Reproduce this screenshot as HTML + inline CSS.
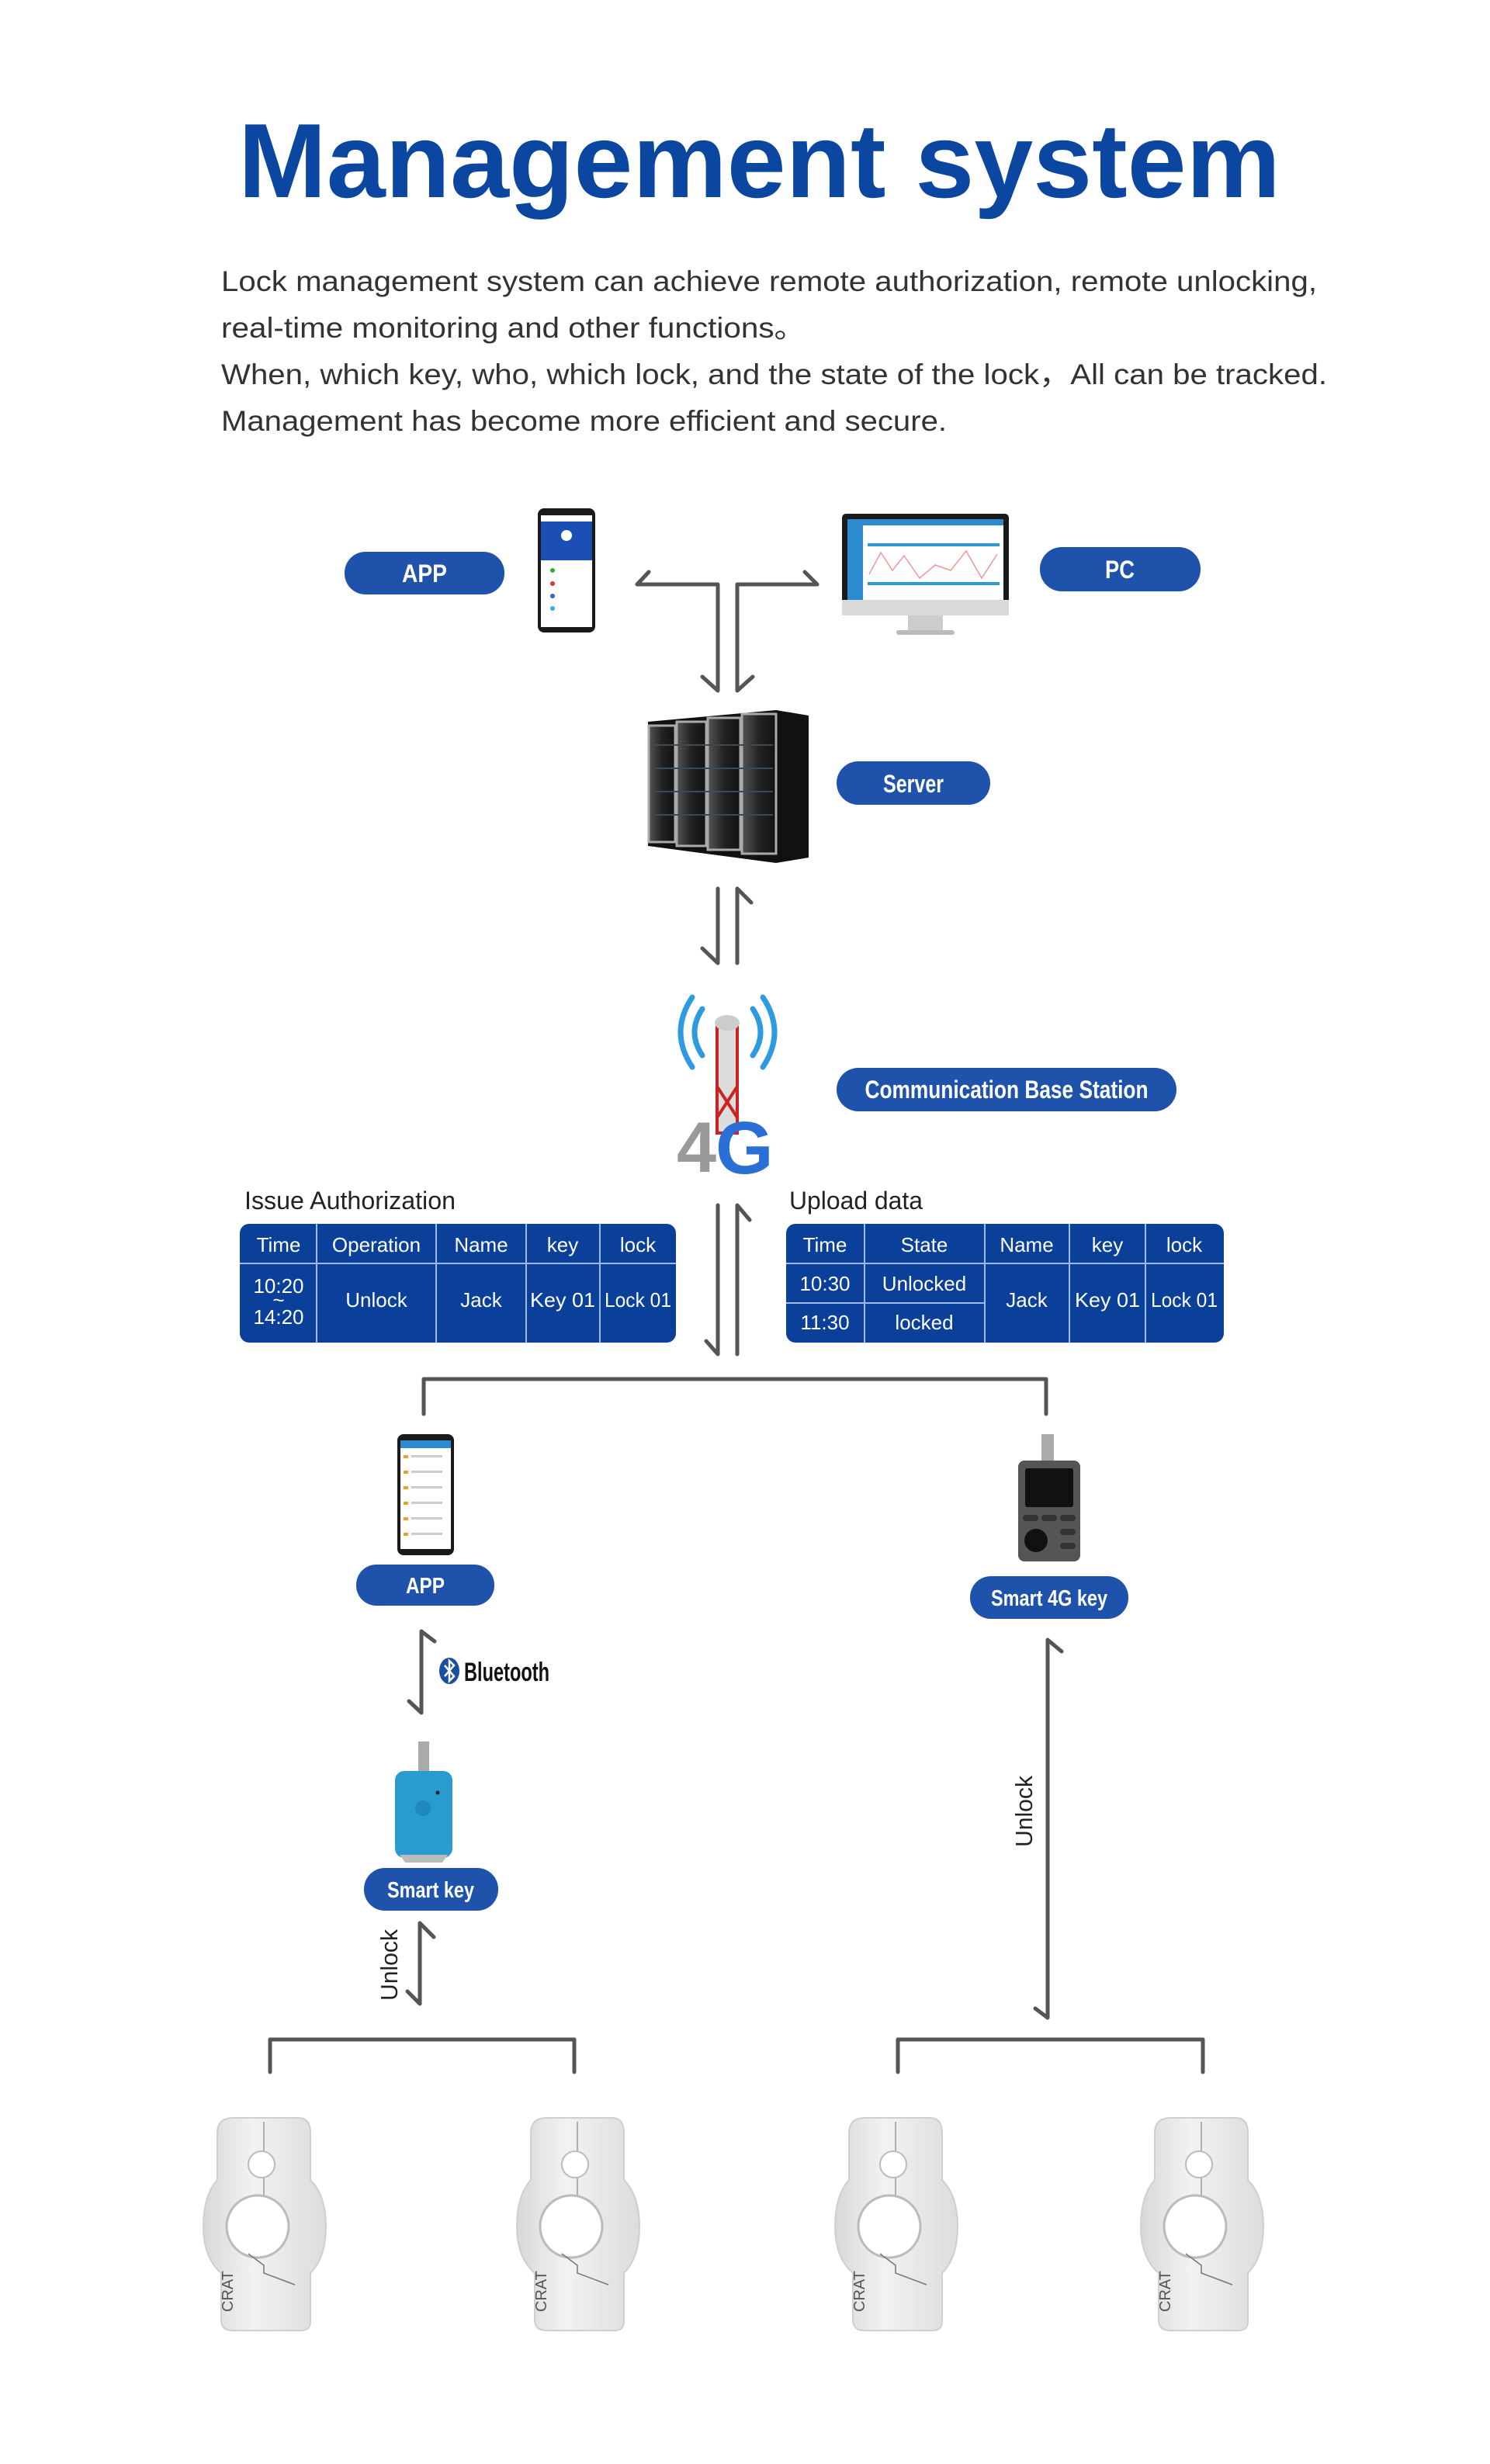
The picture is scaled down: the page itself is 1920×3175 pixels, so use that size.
<!DOCTYPE html>
<html><head><meta charset="utf-8"><style>
html,body{margin:0;padding:0;background:#fff}
svg{display:block}
.p{font-family:"Liberation Sans","Noto Sans CJK SC",sans-serif;font-size:37px;fill:#333}
.pill{fill:#1f52aa}
.pt{font-family:"Liberation Sans Narrow","Liberation Sans",sans-serif;font-weight:bold;fill:#fff;text-anchor:middle}
.tt{font-family:"Liberation Sans Narrow","Liberation Sans",sans-serif;font-size:26px;fill:#fff;text-anchor:middle}
.ln{stroke:#555;stroke-width:5;fill:none;stroke-linecap:round;stroke-linejoin:round}
.dv{stroke:#9fb9e8;stroke-width:2}
.lbl{font-family:"Liberation Sans Narrow","Liberation Sans",sans-serif;font-size:32px;fill:#222}
.bt{font-family:"Liberation Sans Narrow","Liberation Sans",sans-serif;font-weight:bold;font-size:34px;fill:#111}
</style></head><body>
<svg width="1920" height="3175" viewBox="0 0 1920 3175" xmlns="http://www.w3.org/2000/svg">
<defs>
<linearGradient id="lk" x1="0" x2="1"><stop offset="0" stop-color="#d8d8d8"/><stop offset=".4" stop-color="#f2f2f2"/><stop offset="1" stop-color="#dcdcdc"/></linearGradient>
<linearGradient id="srv" x1="0" x2="1"><stop offset="0" stop-color="#555"/><stop offset=".5" stop-color="#222"/><stop offset="1" stop-color="#111"/></linearGradient>
<g id="lock">
 <path d="M-60,20 Q-60,0 -40,0 L45,0 Q60,0 60,20 L60,80 Q80,100 80,140 Q80,180 60,200 L60,262 Q60,274 48,274 L-40,274 Q-55,274 -55,260 L-55,200 Q-78,180 -78,140 Q-78,100 -60,80 Z" fill="url(#lk)" stroke="#cfcfcf" stroke-width="2"/>
 <line x1="0" y1="5" x2="0" y2="100" stroke="#999" stroke-width="1.5"/>
 <circle cx="-3" cy="60" r="17" fill="#fff" stroke="#bbb" stroke-width="2"/>
 <circle cx="-8" cy="140" r="40" fill="#fff" stroke="#bbb" stroke-width="3"/>
 <path d="M-20,175 L0,190 L0,200 L40,215" stroke="#777" stroke-width="1.5" fill="none"/>
 <text x="-40" y="250" font-family="Liberation Sans" font-size="20" fill="#555" transform="rotate(-90 -40 250)">CRAT</text>
</g>
</defs>

<text x="307" y="254" textLength="1343" lengthAdjust="spacingAndGlyphs" font-family="Liberation Sans" font-weight="bold" font-size="136" fill="#0b47a1">Management system</text>

<text class="p" x="285" y="375" textLength="1412" lengthAdjust="spacingAndGlyphs">Lock management system can achieve remote authorization, remote unlocking,</text>
<text class="p" x="285" y="435" textLength="753" lengthAdjust="spacingAndGlyphs">real-time monitoring and other functions。</text>
<text class="p" x="285" y="495" textLength="1425" lengthAdjust="spacingAndGlyphs">When, which key, who, which lock, and the state of the lock，All can be tracked.</text>
<text class="p" x="285" y="555" textLength="935" lengthAdjust="spacingAndGlyphs">Management has become more efficient and secure.</text>

<rect class="pill" x="444" y="711" width="206" height="55" rx="27"/>
<text class="pt" x="547" y="750" font-size="32" textLength="58" lengthAdjust="spacingAndGlyphs">APP</text>
<rect x="693" y="655" width="74" height="160" rx="8" fill="#1a1a1a"/>
<rect x="697" y="664" width="66" height="144" fill="#fff"/>
<rect x="697" y="672" width="66" height="50" fill="#1c4fb6"/>
<circle cx="730" cy="690" r="7" fill="#fff"/>
<circle cx="712" cy="735" r="3" fill="#3a3"/><circle cx="712" cy="752" r="3" fill="#d33"/><circle cx="712" cy="768" r="3" fill="#36c"/><circle cx="712" cy="784" r="3" fill="#3ad"/>

<rect x="1085" y="662" width="215" height="130" rx="5" fill="#1a1a1a"/>
<rect x="1092" y="669" width="201" height="104" fill="#fff"/>
<rect x="1092" y="669" width="201" height="8" fill="#2e8ad0"/>
<rect x="1092" y="677" width="20" height="96" fill="#2e8ad0"/>
<rect x="1118" y="700" width="170" height="4" fill="#3399cc"/>
<polyline points="1120,740 1135,712 1150,735 1165,716 1185,745 1205,728 1225,735 1245,710 1265,745 1285,714" fill="none" stroke="#e99" stroke-width="1.5"/>
<rect x="1118" y="750" width="170" height="4" fill="#3399cc"/>
<rect x="1085" y="773" width="215" height="20" fill="#d9d9d9"/>
<rect x="1170" y="793" width="45" height="20" fill="#ccc"/>
<rect x="1155" y="812" width="75" height="6" rx="3" fill="#bbb"/>

<rect class="pill" x="1340" y="705" width="207" height="57" rx="28"/>
<text class="pt" x="1443" y="745" font-size="32" textLength="38" lengthAdjust="spacingAndGlyphs">PC</text>

<path class="ln" d="M836,737 L821,753 L925,753 L925,890 M905,872 L925,890"/>
<path class="ln" d="M1037,737 L1053,753 L950,753 L950,890 L970,872"/>

<polygon points="835,930 1000,915 1042,922 1042,1105 1000,1112 835,1090" fill="#111"/>
<g fill="url(#srv)" stroke="#aaa" stroke-width="3">
<rect x="836" y="935" width="34" height="150"/>
<rect x="872" y="930" width="38" height="160"/>
<rect x="912" y="925" width="42" height="170"/>
<rect x="956" y="920" width="44" height="180"/>
</g>
<g stroke="#3a4a5a" stroke-width="2">
<line x1="840" y1="960" x2="996" y2="960"/><line x1="840" y1="990" x2="996" y2="990"/><line x1="840" y1="1020" x2="996" y2="1020"/><line x1="840" y1="1050" x2="996" y2="1050"/>
</g>
<rect class="pill" x="1078" y="981" width="198" height="56" rx="28"/>
<text class="pt" x="1177" y="1021" font-size="32" textLength="78" lengthAdjust="spacingAndGlyphs">Server</text>

<path class="ln" d="M925,1145 L925,1241 L905,1222"/>
<path class="ln" d="M950,1241 L950,1145 L968,1163"/>

<g fill="none" stroke="#2e9ae0" stroke-width="7" stroke-linecap="round">
<path d="M905,1300 Q885,1330 905,1360"/><path d="M892,1285 Q862,1330 892,1375"/>
<path d="M970,1300 Q990,1330 970,1360"/><path d="M983,1285 Q1013,1330 983,1375"/>
</g>
<rect x="924" y="1320" width="26" height="140" fill="#ddd" stroke="#c22" stroke-width="4"/>
<path d="M924,1400 L950,1440 M950,1400 L924,1440" stroke="#c22" stroke-width="4"/>
<ellipse cx="937" cy="1318" rx="16" ry="10" fill="#ccc"/>
<text x="872" y="1510" font-family="Liberation Sans" font-weight="bold" font-size="92" fill="#999">4</text>
<text x="922" y="1512" font-family="Liberation Sans" font-weight="bold" font-size="96" fill="#2a6fd6">G</text>

<rect class="pill" x="1078" y="1376" width="438" height="56" rx="28"/>
<text class="pt" x="1297" y="1415" font-size="32" textLength="365" lengthAdjust="spacingAndGlyphs">Communication Base Station</text>

<text class="lbl" x="315" y="1558" textLength="272" lengthAdjust="spacingAndGlyphs">Issue Authorization</text>
<text class="lbl" x="1017" y="1558" textLength="172" lengthAdjust="spacingAndGlyphs">Upload data</text>

<rect x="309" y="1577" width="562" height="153" rx="12" fill="#0a3f9a"/>
<line class="dv" x1="309" y1="1628" x2="871" y2="1628"/>
<g class="dv"><line x1="408" y1="1577" x2="408" y2="1730"/><line x1="562" y1="1577" x2="562" y2="1730"/><line x1="678" y1="1577" x2="678" y2="1730"/><line x1="773" y1="1577" x2="773" y2="1730"/></g>
<text class="tt" x="359" y="1613">Time</text><text class="tt" x="485" y="1613">Operation</text><text class="tt" x="620" y="1613">Name</text><text class="tt" x="725" y="1613">key</text><text class="tt" x="822" y="1613">lock</text>
<text class="tt" x="359" y="1666">10:20</text><text class="tt" x="359" y="1684">~</text><text class="tt" x="359" y="1706">14:20</text>
<text class="tt" x="485" y="1684">Unlock</text><text class="tt" x="620" y="1684">Jack</text><text class="tt" x="725" y="1684" textLength="84" lengthAdjust="spacingAndGlyphs">Key 01</text><text class="tt" x="822" y="1684" textLength="86" lengthAdjust="spacingAndGlyphs">Lock 01</text>

<rect x="1013" y="1577" width="564" height="153" rx="12" fill="#0a3f9a"/>
<line class="dv" x1="1013" y1="1628" x2="1577" y2="1628"/>
<line class="dv" x1="1013" y1="1679" x2="1269" y2="1679"/>
<g class="dv"><line x1="1114" y1="1577" x2="1114" y2="1730"/><line x1="1269" y1="1577" x2="1269" y2="1730"/><line x1="1378" y1="1577" x2="1378" y2="1730"/><line x1="1476" y1="1577" x2="1476" y2="1730"/></g>
<text class="tt" x="1063" y="1613">Time</text><text class="tt" x="1191" y="1613">State</text><text class="tt" x="1323" y="1613">Name</text><text class="tt" x="1427" y="1613">key</text><text class="tt" x="1526" y="1613">lock</text>
<text class="tt" x="1063" y="1663">10:30</text><text class="tt" x="1191" y="1663">Unlocked</text>
<text class="tt" x="1063" y="1713">11:30</text><text class="tt" x="1191" y="1713">locked</text>
<text class="tt" x="1323" y="1684">Jack</text><text class="tt" x="1427" y="1684" textLength="84" lengthAdjust="spacingAndGlyphs">Key 01</text><text class="tt" x="1526" y="1684" textLength="86" lengthAdjust="spacingAndGlyphs">Lock 01</text>

<path class="ln" d="M925,1553 L925,1745 L910,1728"/>
<path class="ln" d="M950,1745 L950,1553 L966,1572"/>

<path class="ln" d="M546,1822 L546,1777 L1348,1777 L1348,1822"/>

<rect x="512" y="1848" width="73" height="156" rx="8" fill="#1a1a1a"/>
<rect x="516" y="1856" width="65" height="140" fill="#fff"/>
<rect x="516" y="1856" width="65" height="10" fill="#2e8ad0"/>
<g fill="#f0a030"><rect x="520" y="1875" width="6" height="4"/><rect x="520" y="1895" width="6" height="4"/><rect x="520" y="1915" width="6" height="4"/><rect x="520" y="1935" width="6" height="4"/><rect x="520" y="1955" width="6" height="4"/><rect x="520" y="1975" width="6" height="4"/></g>
<g fill="#ccc"><rect x="530" y="1875" width="40" height="3"/><rect x="530" y="1895" width="40" height="3"/><rect x="530" y="1915" width="40" height="3"/><rect x="530" y="1935" width="40" height="3"/><rect x="530" y="1955" width="40" height="3"/><rect x="530" y="1975" width="40" height="3"/></g>
<rect class="pill" x="459" y="2016" width="178" height="53" rx="26"/>
<text class="pt" x="548" y="2053" font-size="29" textLength="50" lengthAdjust="spacingAndGlyphs">APP</text>

<rect x="1342" y="1848" width="16" height="35" fill="#aaa"/>
<rect x="1312" y="1882" width="80" height="130" rx="8" fill="#555"/>
<rect x="1321" y="1892" width="62" height="50" rx="3" fill="#111"/>
<circle cx="1335" cy="1985" r="15" fill="#111"/>
<g fill="#333"><rect x="1318" y="1952" width="20" height="8" rx="4"/><rect x="1342" y="1952" width="20" height="8" rx="4"/><rect x="1366" y="1952" width="20" height="8" rx="4"/><rect x="1366" y="1970" width="20" height="8" rx="4"/><rect x="1366" y="1988" width="20" height="8" rx="4"/></g>
<rect class="pill" x="1250" y="2031" width="204" height="55" rx="27"/>
<text class="pt" x="1352" y="2069" font-size="29" textLength="150" lengthAdjust="spacingAndGlyphs">Smart 4G key</text>

<path class="ln" d="M560,2115 L543,2102 L543,2207 L527,2192"/>
<ellipse cx="579" cy="2153" rx="13" ry="17" fill="#1a4fa0"/>
<path d="M573,2146 L585,2160 L579,2166 L579,2140 L585,2146 L573,2160" stroke="#fff" stroke-width="2.5" fill="none"/>
<text class="bt" x="598" y="2166" textLength="110" lengthAdjust="spacingAndGlyphs">Bluetooth</text>

<rect x="539" y="2244" width="14" height="40" fill="#aaa"/>
<rect x="509" y="2282" width="74" height="112" rx="12" fill="#2a9bd0"/>
<path d="M515,2390 L577,2390 L570,2400 L522,2400 Z" fill="#bbb"/>
<circle cx="545" cy="2330" r="10" fill="#1f88bd"/>
<circle cx="564" cy="2310" r="2.5" fill="#123"/>
<rect class="pill" x="469" y="2407" width="173" height="55" rx="27"/>
<text class="pt" x="555" y="2445" font-size="29" textLength="112" lengthAdjust="spacingAndGlyphs">Smart key</text>

<path class="ln" d="M559,2496 L541,2478 L541,2582 L525,2566"/>
<text x="512" y="2578" font-family="Liberation Sans" font-size="31" fill="#222" transform="rotate(-90 512 2578)" textLength="92" lengthAdjust="spacingAndGlyphs">Unlock</text>

<path class="ln" d="M1368,2128 L1350,2113 L1350,2600 L1334,2588"/>
<text x="1330" y="2380" font-family="Liberation Sans" font-size="31" fill="#222" transform="rotate(-90 1330 2380)" textLength="92" lengthAdjust="spacingAndGlyphs">Unlock</text>

<path class="ln" d="M348,2670 L348,2628 L740,2628 L740,2670"/>
<path class="ln" d="M1157,2670 L1157,2628 L1550,2628 L1550,2670"/>

<use href="#lock" x="340" y="2729"/>
<use href="#lock" x="744" y="2729"/>
<use href="#lock" x="1154" y="2729"/>
<use href="#lock" x="1548" y="2729"/>
</svg>
</body></html>
